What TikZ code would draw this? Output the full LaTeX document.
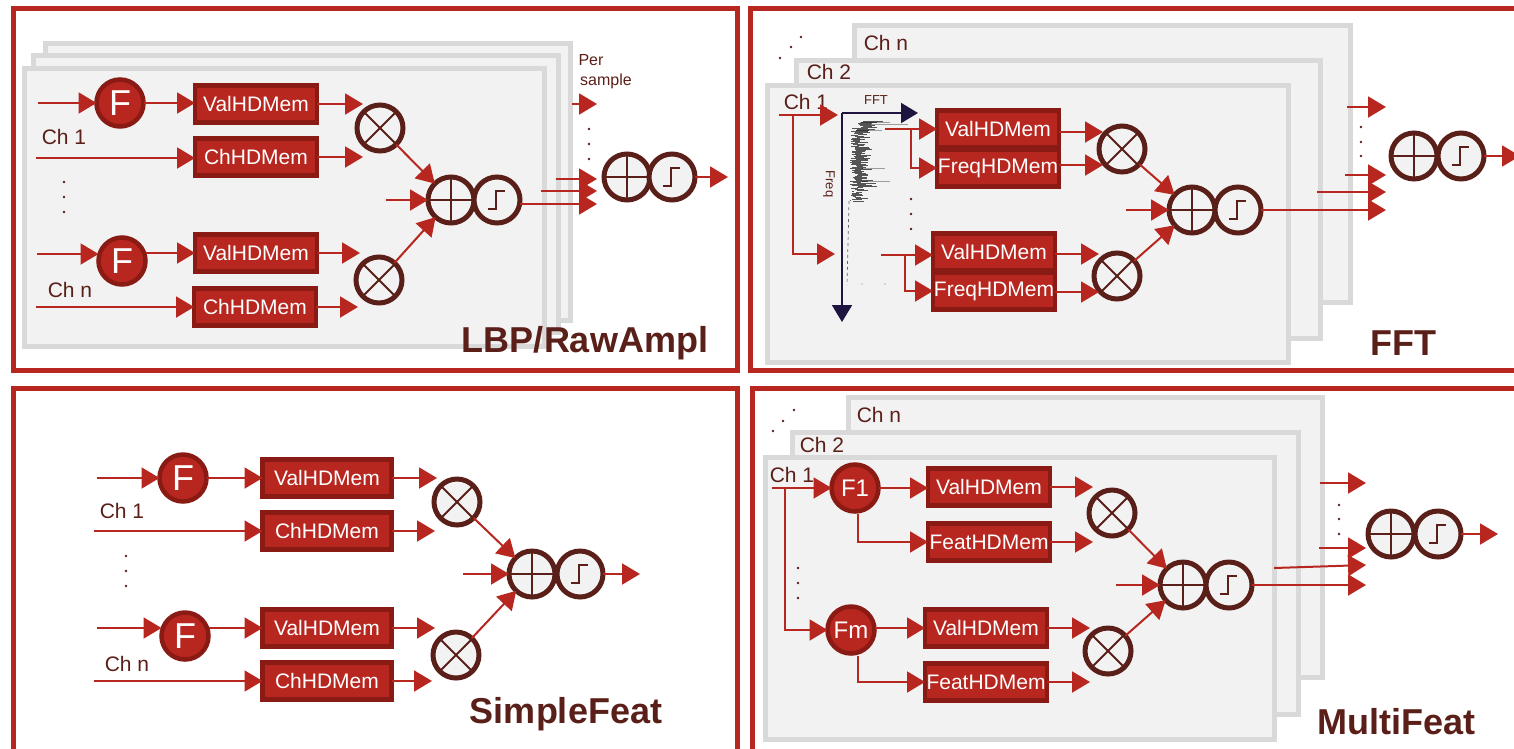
\documentclass[tikz,border=0pt]{standalone}
\usepackage{fontspec}
\setmainfont{Liberation Sans}
\usetikzlibrary{arrows.meta}
\definecolor{hdred}{HTML}{B7261F}
\definecolor{hddark}{HTML}{8A1A14}
\definecolor{hdbrown}{HTML}{5A1F18}
\definecolor{hdnavy}{HTML}{1F1440}
\definecolor{hdplate}{HTML}{F2F2F2}
\definecolor{hdedge}{HTML}{D9D9D9}
\newcommand{\hdsize}[1]{\fontsize{#1}{#1}\selectfont}

\begin{document}
\begin{tikzpicture}[x=1pt,y=-1pt]
\tikzstyle{panel}=[draw=hdred,line width=5]
\tikzstyle{plate}=[draw=hdedge,fill=hdplate,line width=5]
\tikzstyle{memnode}=[draw=hddark,fill=hdred,line width=4.5,text=white,minimum width=122,minimum height=37,inner sep=0,outer sep=0,font=\hdsize{21}]
\tikzstyle{fnode}=[circle,draw=hddark,fill=hdred,line width=4.5,text=white,minimum size=47,inner sep=0,outer sep=0]
\tikzstyle{opnode}=[circle,draw=hdbrown,fill=hdplate,line width=5,minimum size=46,inner sep=0,outer sep=0]
\tikzstyle{mulnode}=[opnode,path picture={
  \draw[hdbrown,line width=2] (path picture bounding box.north west) -- (path picture bounding box.south east);
  \draw[hdbrown,line width=2] (path picture bounding box.north east) -- (path picture bounding box.south west);}]
\tikzstyle{addnode}=[opnode,path picture={
  \draw[hdbrown,line width=2] (path picture bounding box.north) -- (path picture bounding box.south);
  \draw[hdbrown,line width=2] (path picture bounding box.west) -- (path picture bounding box.east);}]
\tikzstyle{stepnode}=[opnode,path picture={
  \draw[hdbrown,line width=2,shift={(path picture bounding box.center)}] (-9,9) -- (-1,9) -- (-1,-9) -- (8,-9);}]
\tikzstyle{flow}=[draw=hdred,line width=2,-{Triangle[length=18pt,width=21pt]}]
\tikzstyle{axis}=[draw=hdnavy,line width=2,-{Triangle[length=17pt,width=20pt]}]
\tikzstyle{chlabel}=[text=hdbrown,font=\hdsize{21},inner sep=0]
\tikzstyle{title}=[text=hdbrown,font=\hdsize{36}\bfseries,inner sep=0]
\useasboundingbox (0,0) rectangle (1514,748);

% panels and plates
\draw[panel] (13,8) rectangle (737,370);
\draw[panel] (750,8) rectangle (1525,370);
\draw[panel] (13,388) rectangle (737,760);
\draw[panel] (752,388) rectangle (1525,760);
\foreach \xa/\ya/\xb/\yb in {45/43/570/320,33/55/558/332,24/68/544/346,
    854/25/1350/302,796/60/1320/338,767/85/1288/362,
    848/397/1322/677,792/432/1298/714,765/457/1274/739}
  \draw[plate] (\xa,\ya) rectangle (\xb,\yb);

% memory boxes
\foreach \nm/\x/\y/\t in {av1/256/104/ValHDMem,ac1/256/157/ChHDMem,av2/256/253/ValHDMem,ac2/255/307/ChHDMem,
    bv1/998/129/ValHDMem,bc1/998/168/FreqHDMem,bv2/994/252/ValHDMem,bc2/994/291/FreqHDMem,
    dv1/989/487/ValHDMem,dc1/989/542/FeatHDMem,dv2/986/628/ValHDMem,dc2/986/682/FeatHDMem}
  \node[memnode] (\nm) at (\x,\y) {\t};
\foreach \nm/\x/\y/\t in {cv1/327/478/ValHDMem,cc1/327/531/ChHDMem,cv2/327/628/ValHDMem,cc2/327/681/ChHDMem}
  \node[memnode,minimum width=129] (\nm) at (\x,\y) {\t};
% feature circles
\foreach \nm/\x/\y in {af1/120/103,af2/122/261,cf1/183/478,cf2/185/636}
  \node[fnode,font=\hdsize{36}] (\nm) at (\x,\y) {F};
\node[fnode,font=\hdsize{24}] (df1) at (855,488) {F1};
\node[fnode,font=\hdsize{24}] (df2) at (851,630) {Fm};
% operators
\foreach \nm/\x/\y in {am1/380/128,am2/379/280,bm1/1122/149,bm2/1117/276,cm1/457/502,cm2/456/655,dm1/1112/513,dm2/1108/651}
  \node[mulnode] (\nm) at (\x,\y) {};
\foreach \p/\xa/\xb/\y in {a/451/497/200,aout/627/672/177,b/1192/1238/210,bout/1414/1461/156,c/532/580/574,d/1183/1229/585,dout/1391/1438/534}{
  \node[addnode] (\p add) at (\xa,\y) {};
  \node[stepnode] (\p step) at (\xb,\y) {};
}

% labels
\foreach \nm/\x/\y/\t in {la1/64/137/Ch 1,la2/70/290/Ch n,lb1/806/102/Ch 1,lb2/829/72/Ch 2,lb3/886/43/Ch n,
    lc1/122/511/Ch 1,lc2/127/664/Ch n,ld1/792/475/Ch 1,ld2/822/445/Ch 2,ld3/879/415/Ch n}
  \node[chlabel] (\nm) at (\x,\y) {\t};
\node[chlabel,font=\hdsize{16}] (per) at (591,60) {Per};
\node[chlabel,font=\hdsize{16}] (sample) at (606,81) {sample};
\node[title] (ta) at (585,343) {LBP/RawAmpl};
\node[title] (tb) at (1403,343) {FFT};
\node[title] (tc) at (566,714) {SimpleFeat};
\node[title] (td) at (1396,722) {MultiFeat};

% dots
\foreach \x/\y in {589/129,589/144,589/159,64/182,64/197,64/212,911/199,911/214,911/229,1361/127,1361/142,1361/156,
    780/58,791/47,801/37,126/556,126/571,126/586,773/431,783/421,794/410,798/568,798/583,798/598,1339/505,1339/519,1339/534}
  \fill[hdbrown] (\x,\y) circle (1.4);

% spectrum
\coordinate (corner) at (842,113);
\node[text=hdbrown,font=\hdsize{13},inner sep=0] (fftlabel) at (876,100) {FFT};
\node[text=hdbrown,font=\hdsize{13},inner sep=0,rotate=-90] (freqlabel) at (829,184) {Freq};
\pgfmathsetseed{11}
\foreach \y in {121,122,...,201}{
  \pgfmathsetmacro\xa{850+8*rnd+(\y<128?8:0)}
  \pgfmathsetmacro\xb{\xa+6+14*rnd+(\y>190?-6:0)}
  \draw[black,opacity=.65,line width=1] (\xa,\y) -- (\xb,\y);
}
\foreach \y/\xa/\xb in {122/860/890,124/870/908,168/862/885,181/862/890,130/856/882}
  \draw[black,opacity=.35,line width=.7] (\xa,\y) -- (\xb,\y);
\draw[black!60,line width=.7,dashed] (849,201) -- (847,285);
\foreach \x in {862,885}
  \fill[black!50] (\x,284) circle (.6);
\draw[axis] (corner) -- (918,113);
\draw[axis] (corner) -- (842,322);

% panel a
\foreach \a/\b in {am1/aadd,am2/aadd}
  \draw[flow] (\a) -- (\b);
\draw[flow] (af1) -- (av1.west |- af1);
\draw[flow] (af2.east |- av2.west) -- (av2.west);
\foreach \a/\xa/\y in {af1/38/103,ac1/36/158,af2/37/254,ac2/36/307}
  \draw[flow] (\xa,\y) coordinate (\a in) -- (\a.west |- \a in);
\foreach \a/\xb in {av1/363,ac1/363,av2/360,ac2/358}
  \draw[flow] (\a.east) -- (\xb,0 |- \a.east);
\draw[flow] (386,200) coordinate (ain) -- (aadd);
\coordinate (ao1) at (597,204);
\draw[flow] (astep.east |- ao1) -- (ao1);
\draw[flow] (541,191) coordinate (ao2s) -- (597,191);
\draw[flow] (556,179) coordinate (ao3s) -- (597,179);
\draw[flow] (572,104) coordinate (ao4s) -- (597,104);
\draw[flow] (aoutstep) -- (728,177);

% panel b
\coordinate (bin) at (779,115);
\coordinate (bk) at (793,115);
\draw[flow] (bin) -- (838,115);
\draw[flow] (bk) |- (835,254);
\coordinate (bs1) at (885,129);
\coordinate (bs2) at (881,255);
\draw[flow] (bs1) -- (bv1.west |- bs1);
\draw[flow] (911,129) |- (bc1);
\draw[flow] (bs2) -- (bv2.west |- bs2);
\draw[flow] (905,255) |- (bc2);
\foreach \a/\xb/\y in {bv1/1103/132,bc1/1103/165,bv2/1099/254,bc2/1099/292}
  \draw[flow] (\a.east |- 0,\y) -- (\xb,\y);
\foreach \a in {bm1,bm2}
  \draw[flow] (\a) -- (badd);
\draw[flow] (1126,210) coordinate (bi) -- (badd);
\draw[flow] (bstep) -- (1386,210);
\draw[flow] (1317,192) coordinate (bo2s) -- (1386,192);
\draw[flow] (1345,175) coordinate (bo3s) -- (1386,175);
\draw[flow] (1347,107) coordinate (bo4s) -- (1386,107);
\draw[flow] (boutstep) -- (1520,156);

% panel c
\foreach \a/\b in {cm1/cadd,cm2/cadd}
  \draw[flow] (\a) -- (\b);
\draw[flow] (cf1) -- (cv1);
\draw[flow] (cf2.east |- cv2.west) -- (cv2.west);
\foreach \a/\xa/\y in {cf1/97/478,cc1/94/531,cf2/97/628,cc2/94/681}
  \draw[flow] (\xa,\y) coordinate (\a in) -- (\a.west |- \a in);
\foreach \a/\xb in {cv1/437,cc1/435,cv2/435,cc2/432}
  \draw[flow] (\a.east) -- (\xb,0 |- \a.east);
\draw[flow] (463,574) coordinate (ci) -- (cadd);
\draw[flow] (cstep) -- (640,574);

% panel d
\coordinate (dk) at (785,488);
\draw[flow] (772,488) coordinate (din) -- (df1);
\draw[flow] (dk) |- (df2);
\draw[flow] (df1) -- (dv1.west |- df1);
\draw[flow] (df2.east |- dv2.west) -- (dv2.west);
\draw[flow] (858,514) |- (dc1);
\draw[flow] (858,656) |- (dc2);
\foreach \a/\xb in {dv1/1093,dc1/1093,dv2/1090,dc2/1090}
  \draw[flow] (\a.east) -- (\xb,0 |- \a.east);
\foreach \a in {dm1,dm2}
  \draw[flow] (\a) -- (dadd);
\draw[flow] (1116,585) coordinate (di) -- (dadd);
\draw[flow] (dstep) -- (1366,585);
\draw[flow] (1274,568) coordinate (do2s) -- (1366,565);
\draw[flow] (1319,548) coordinate (do3s) -- (1366,548);
\draw[flow] (1320,483) coordinate (do4s) -- (1366,483);
\draw[flow] (doutstep) -- (1498,534);
\end{tikzpicture}
\end{document}
